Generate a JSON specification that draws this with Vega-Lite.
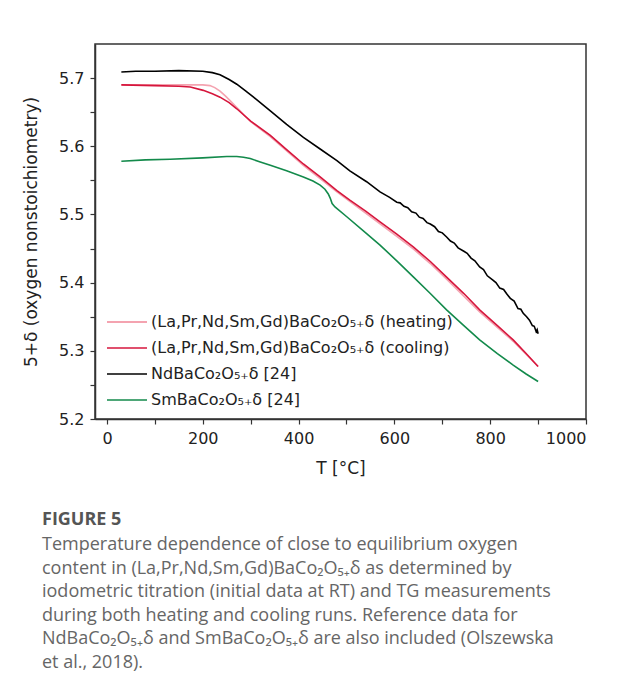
{
  "$schema": "https://vega.github.io/schema/vega-lite/v6.json",
  "autosize": {"type": "none"},
  "width": 491,
  "height": 375,
  "padding": {"left": 95, "top": 44, "right": 31, "bottom": 276},
  "background": "white",
  "config": {
    "view": {"stroke": "#333", "strokeWidth": 1.5},
    "font": "DejaVu Sans"
  },
  "title": {
    "text": "FIGURE 5",
    "subtitle": [
      "Temperature dependence of close to equilibrium oxygen",
      "content in (La,Pr,Nd,Sm,Gd)BaCo₂O₅₊δ as determined by",
      "iodometric titration (initial data at RT) and TG measurements",
      "during both heating and cooling runs. Reference data for",
      "NdBaCo₂O₅₊δ and SmBaCo₂O₅₊δ are also included (Olszewska",
      "et al., 2018)."
    ],
    "orient": "bottom",
    "anchor": "start",
    "frame": "group",
    "dx": -53,
    "offset": 35,
    "font": "Open Sans",
    "fontSize": 18,
    "fontWeight": "bold",
    "color": "#555555",
    "subtitleFont": "Open Sans",
    "subtitleFontSize": 18,
    "subtitleColor": "#666666",
    "subtitleLineHeight": 23.6,
    "subtitlePadding": 7
  },
  "data": {
    "values": [
      {"s": "heat", "T": 30, "v": 5.690}, {"s": "heat", "T": 100, "v": 5.690}, {"s": "heat", "T": 150, "v": 5.690}, {"s": "heat", "T": 200, "v": 5.690}, {"s": "heat", "T": 215, "v": 5.689}, {"s": "heat", "T": 225, "v": 5.686}, {"s": "heat", "T": 236, "v": 5.681}, {"s": "heat", "T": 247, "v": 5.674}, {"s": "heat", "T": 257, "v": 5.667}, {"s": "heat", "T": 268, "v": 5.659}, {"s": "heat", "T": 278, "v": 5.652}, {"s": "heat", "T": 290, "v": 5.643}, {"s": "heat", "T": 300, "v": 5.636}, {"s": "heat", "T": 341, "v": 5.614}, {"s": "heat", "T": 410, "v": 5.572}, {"s": "heat", "T": 480, "v": 5.533}, {"s": "heat", "T": 540, "v": 5.502}, {"s": "heat", "T": 605, "v": 5.468}, {"s": "heat", "T": 640, "v": 5.449}, {"s": "heat", "T": 675, "v": 5.428}, {"s": "heat", "T": 709, "v": 5.405}, {"s": "heat", "T": 778, "v": 5.357}, {"s": "heat", "T": 848, "v": 5.314}, {"s": "heat", "T": 900, "v": 5.277},

      {"s": "cool", "T": 30, "v": 5.690}, {"s": "cool", "T": 100, "v": 5.689}, {"s": "cool", "T": 150, "v": 5.688}, {"s": "cool", "T": 174, "v": 5.687}, {"s": "cool", "T": 201, "v": 5.682}, {"s": "cool", "T": 220, "v": 5.677}, {"s": "cool", "T": 236, "v": 5.672}, {"s": "cool", "T": 255, "v": 5.664}, {"s": "cool", "T": 271, "v": 5.655}, {"s": "cool", "T": 300, "v": 5.637}, {"s": "cool", "T": 341, "v": 5.616}, {"s": "cool", "T": 375, "v": 5.595}, {"s": "cool", "T": 410, "v": 5.574}, {"s": "cool", "T": 445, "v": 5.555}, {"s": "cool", "T": 480, "v": 5.535}, {"s": "cool", "T": 507, "v": 5.521}, {"s": "cool", "T": 540, "v": 5.505}, {"s": "cool", "T": 570, "v": 5.489}, {"s": "cool", "T": 605, "v": 5.471}, {"s": "cool", "T": 640, "v": 5.452}, {"s": "cool", "T": 675, "v": 5.431}, {"s": "cool", "T": 709, "v": 5.408}, {"s": "cool", "T": 745, "v": 5.384}, {"s": "cool", "T": 778, "v": 5.360}, {"s": "cool", "T": 815, "v": 5.337}, {"s": "cool", "T": 848, "v": 5.316}, {"s": "cool", "T": 875, "v": 5.296}, {"s": "cool", "T": 900, "v": 5.277},

      {"s": "nd", "T": 30, "v": 5.709}, {"s": "nd", "T": 60, "v": 5.710}, {"s": "nd", "T": 100, "v": 5.710}, {"s": "nd", "T": 150, "v": 5.711}, {"s": "nd", "T": 200, "v": 5.710}, {"s": "nd", "T": 220, "v": 5.708}, {"s": "nd", "T": 236, "v": 5.705}, {"s": "nd", "T": 255, "v": 5.698}, {"s": "nd", "T": 271, "v": 5.691}, {"s": "nd", "T": 290, "v": 5.681}, {"s": "nd", "T": 306, "v": 5.672}, {"s": "nd", "T": 341, "v": 5.652}, {"s": "nd", "T": 375, "v": 5.632}, {"s": "nd", "T": 410, "v": 5.613}, {"s": "nd", "T": 445, "v": 5.596}, {"s": "nd", "T": 480, "v": 5.579}, {"s": "nd", "T": 507, "v": 5.564}, {"s": "nd", "T": 542, "v": 5.548}, {"s": "nd", "T": 570, "v": 5.533}, {"s": "nd", "T": 590, "v": 5.525}, {"s": "nd", "T": 605, "v": 5.518}, {"s": "nd", "T": 612, "v": 5.517}, {"s": "nd", "T": 620, "v": 5.512}, {"s": "nd", "T": 628, "v": 5.510}, {"s": "nd", "T": 636, "v": 5.504}, {"s": "nd", "T": 645, "v": 5.502}, {"s": "nd", "T": 652, "v": 5.496}, {"s": "nd", "T": 660, "v": 5.494}, {"s": "nd", "T": 668, "v": 5.488}, {"s": "nd", "T": 675, "v": 5.486}, {"s": "nd", "T": 684, "v": 5.482}, {"s": "nd", "T": 692, "v": 5.475}, {"s": "nd", "T": 700, "v": 5.473}, {"s": "nd", "T": 709, "v": 5.467}, {"s": "nd", "T": 717, "v": 5.461}, {"s": "nd", "T": 725, "v": 5.458}, {"s": "nd", "T": 733, "v": 5.451}, {"s": "nd", "T": 745, "v": 5.446}, {"s": "nd", "T": 752, "v": 5.443}, {"s": "nd", "T": 760, "v": 5.436}, {"s": "nd", "T": 768, "v": 5.432}, {"s": "nd", "T": 778, "v": 5.423}, {"s": "nd", "T": 786, "v": 5.419}, {"s": "nd", "T": 794, "v": 5.410}, {"s": "nd", "T": 805, "v": 5.404}, {"s": "nd", "T": 812, "v": 5.400}, {"s": "nd", "T": 820, "v": 5.392}, {"s": "nd", "T": 828, "v": 5.390}, {"s": "nd", "T": 834, "v": 5.384}, {"s": "nd", "T": 842, "v": 5.377}, {"s": "nd", "T": 850, "v": 5.373}, {"s": "nd", "T": 858, "v": 5.362}, {"s": "nd", "T": 864, "v": 5.361}, {"s": "nd", "T": 869, "v": 5.355}, {"s": "nd", "T": 876, "v": 5.350}, {"s": "nd", "T": 882, "v": 5.345}, {"s": "nd", "T": 888, "v": 5.337}, {"s": "nd", "T": 892, "v": 5.336}, {"s": "nd", "T": 896, "v": 5.328}, {"s": "nd", "T": 898, "v": 5.331}, {"s": "nd", "T": 900, "v": 5.325},

      {"s": "sm", "T": 30, "v": 5.578}, {"s": "sm", "T": 80, "v": 5.580}, {"s": "sm", "T": 132, "v": 5.581}, {"s": "sm", "T": 200, "v": 5.583}, {"s": "sm", "T": 250, "v": 5.585}, {"s": "sm", "T": 271, "v": 5.585}, {"s": "sm", "T": 285, "v": 5.584}, {"s": "sm", "T": 299, "v": 5.582}, {"s": "sm", "T": 320, "v": 5.577}, {"s": "sm", "T": 341, "v": 5.572}, {"s": "sm", "T": 375, "v": 5.564}, {"s": "sm", "T": 410, "v": 5.555}, {"s": "sm", "T": 430, "v": 5.549}, {"s": "sm", "T": 445, "v": 5.543}, {"s": "sm", "T": 455, "v": 5.537}, {"s": "sm", "T": 462, "v": 5.530}, {"s": "sm", "T": 466, "v": 5.524}, {"s": "sm", "T": 470, "v": 5.516}, {"s": "sm", "T": 476, "v": 5.511}, {"s": "sm", "T": 500, "v": 5.497}, {"s": "sm", "T": 542, "v": 5.472}, {"s": "sm", "T": 570, "v": 5.455}, {"s": "sm", "T": 605, "v": 5.432}, {"s": "sm", "T": 640, "v": 5.408}, {"s": "sm", "T": 675, "v": 5.384}, {"s": "sm", "T": 709, "v": 5.360}, {"s": "sm", "T": 745, "v": 5.337}, {"s": "sm", "T": 778, "v": 5.316}, {"s": "sm", "T": 815, "v": 5.296}, {"s": "sm", "T": 848, "v": 5.279}, {"s": "sm", "T": 875, "v": 5.266}, {"s": "sm", "T": 900, "v": 5.255}
    ]
  },
  "mark": {"type": "line", "strokeWidth": 1.6, "clip": true},
  "encoding": {
    "x": {
      "field": "T", "type": "quantitative",
      "scale": {"domain": [-25, 1000], "nice": false, "zero": false},
      "axis": {
        "title": "T [°C]",
        "values": [0, 100, 200, 300, 400, 500, 600, 700, 800, 900, 1000],
        "format": "d",
        "labelExpr": "datum.value % 200 == 0 ? datum.label : ''",
        "grid": false, "domainColor": "#333", "domainWidth": 1.5,
        "tickColor": "#333", "tickSize": 5, "tickWidth": 1.2,
        "labelFontSize": 16, "labelColor": "#222", "labelPadding": 6,
        "titleFontSize": 17, "titleFontWeight": "normal", "titleColor": "#222", "titlePadding": 14
      }
    },
    "y": {
      "field": "v", "type": "quantitative",
      "scale": {"domain": [5.2, 5.75], "nice": false, "zero": false},
      "axis": {
        "title": "5+δ (oxygen nonstoichiometry)",
        "values": [5.2, 5.25, 5.3, 5.35, 5.4, 5.45, 5.5, 5.55, 5.6, 5.65, 5.7],
        "labelExpr": "round(datum.value * 100) % 10 == 0 ? format(datum.value, '.1f') : ''",
        "grid": false, "domainColor": "#333", "domainWidth": 1.5,
        "tickColor": "#333", "tickSize": 5, "tickWidth": 1.2,
        "labelFontSize": 16, "labelColor": "#222", "labelPadding": 6,
        "titleFontSize": 17, "titleFontWeight": "normal", "titleColor": "#222", "titlePadding": 18
      }
    },
    "color": {
      "field": "s", "type": "nominal",
      "scale": {
        "domain": ["heat", "cool", "nd", "sm"],
        "range": ["#f4a3b0", "#d6163c", "#000000", "#138a4b"]
      },
      "legend": {
        "title": null,
        "orient": "none",
        "legendX": 11,
        "legendY": 268,
        "symbolType": "stroke",
        "symbolSize": 1600,
        "symbolStrokeWidth": 2,
        "clipHeight": 20,
        "labelFontSize": 16,
        "labelColor": "#222",
        "labelOffset": 3,
        "rowPadding": 6,
        "labelExpr": "{'heat': '(La,Pr,Nd,Sm,Gd)BaCo₂O₅₊δ (heating)', 'cool': '(La,Pr,Nd,Sm,Gd)BaCo₂O₅₊δ (cooling)', 'nd': 'NdBaCo₂O₅₊δ [24]', 'sm': 'SmBaCo₂O₅₊δ [24]'}[datum.value]",
        "labelLimit": 400
      }
    },
    "strokeWidth": {
      "field": "s", "type": "nominal",
      "scale": {"domain": ["heat", "cool", "nd", "sm"], "range": [1.8, 1.6, 2.2, 1.5]},
      "legend": null
    },
    "order": {"field": "T"}
  }
}
